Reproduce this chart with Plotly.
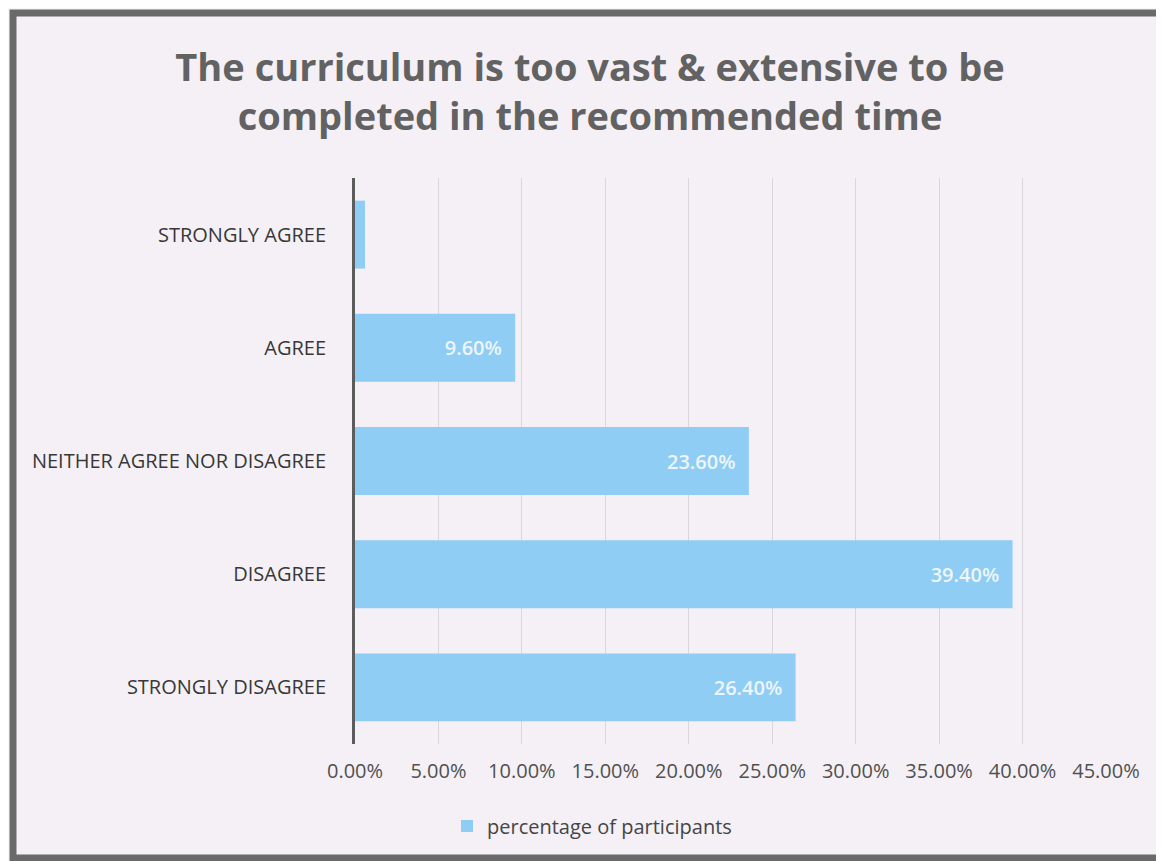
import plotly.graph_objects as go

categories = ["STRONGLY AGREE", "AGREE", "NEITHER AGREE NOR DISAGREE", "DISAGREE", "STRONGLY DISAGREE"]
values = [0.6, 9.6, 23.6, 39.4, 26.4]
labels = ["", "9.60%", "23.60%", "39.40%", "26.40%"]
tick_vals = [0, 5, 10, 15, 20, 25, 30, 35, 40, 45]
tick_text = ["0.00%", "5.00%", "10.00%", "15.00%", "20.00%", "25.00%", "30.00%", "35.00%", "40.00%", "45.00%"]
series_name = "percentage of participants"
title_text = "The curriculum is too vast & extensive to be<br>completed in the recommended time"

OFF = 8  # page body margin
W, H = 1156, 853
L = 355 - OFF
R = W - (1106 - OFF)
T = 178 - OFF
B = H - (744 - OFF)
pw, ph = W - L - R, H - T - B

def px_x(p):
    return (p - OFF - L) / pw

def px_y(p):
    return (H - B - (p - OFF)) / ph

FONT = "Open Sans"
PAD = "\u00a0\u00a0"

fig = go.Figure()
fig.add_trace(go.Bar(
    y=categories, x=values, orientation="h", name=series_name,
    marker=dict(color="#8fcdf4", line=dict(width=0)),
    text=[t + PAD if t else "" for t in labels],
    textposition="inside", insidetextanchor="end",
    textfont=dict(color="#eef5fb", size=20, family=FONT, weight=600),
    showlegend=True,
))

fig.add_shape(type="rect", xref="paper", yref="paper",
              x0=px_x(13), x1=px_x(1161), y0=px_y(858), y1=px_y(13),
              fillcolor="#f4f0f6", line=dict(color="#6a6a6a", width=7), layer="below")

fig.update_layout(
    width=W, height=H,
    margin=dict(l=L, r=R, t=T, b=B, pad=0),
    paper_bgcolor="#f8f6f8",
    plot_bgcolor="rgba(0,0,0,0)",
    bargap=0.4,
    title=dict(text=title_text, x=(590 - OFF) / W, xanchor="center",
               y=1 - (81 - OFF) / H, yanchor="middle", yref="container",
               font=dict(family=FONT, size=38, color="#626262", weight="bold")),
    xaxis=dict(range=[0, 45], tickvals=tick_vals, ticktext=tick_text,
               showgrid=True, gridcolor="#dad6dc", gridwidth=1, zeroline=False,
               showline=False, ticks="", ticklabelstandoff=13,
               tickfont=dict(family=FONT, size=20, color="#505050")),
    yaxis=dict(categoryorder="array", categoryarray=categories, autorange="reversed",
               showline=True, linecolor="#5c5c5c", linewidth=3, ticks="",
               ticklabelstandoff=22,
               tickfont=dict(family=FONT, size=20, color="#383838")),
    legend=dict(orientation="h", x=px_x(592), xanchor="center", y=px_y(826), yanchor="middle",
                font=dict(family=FONT, size=20, color="#454545"),
                bgcolor="rgba(0,0,0,0)", itemwidth=30),
    font=dict(family=FONT),
)

fig.write_html("out.html")
